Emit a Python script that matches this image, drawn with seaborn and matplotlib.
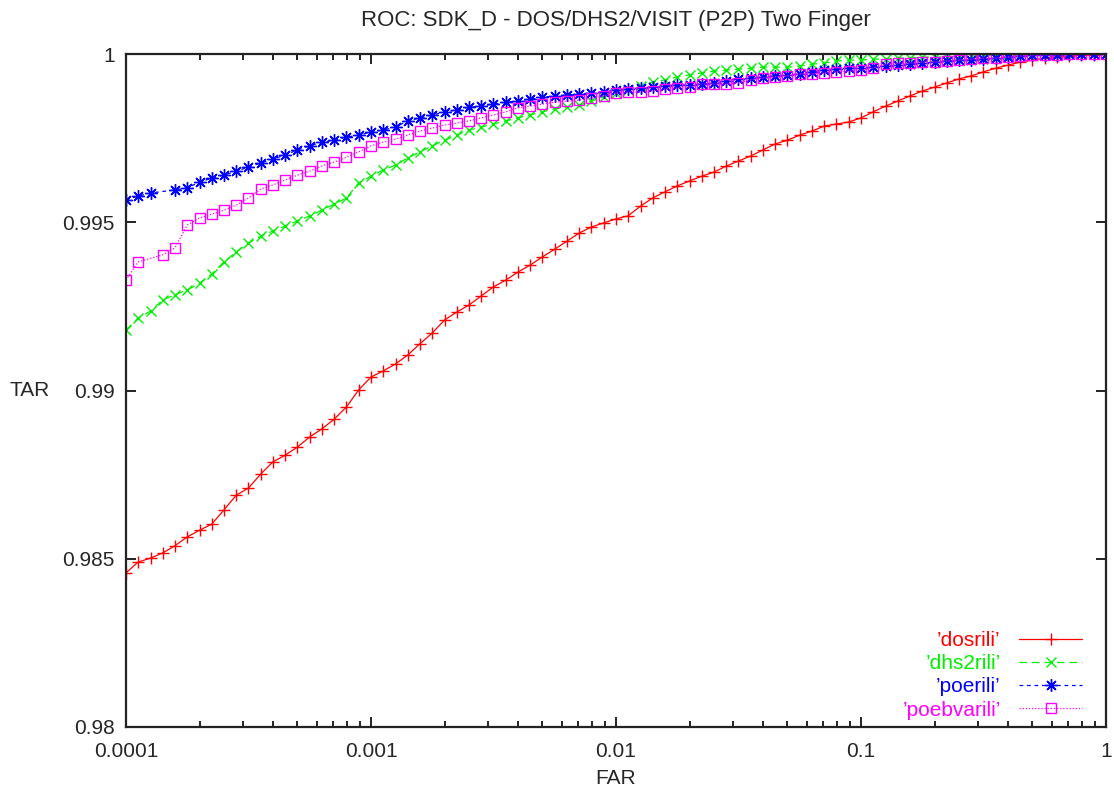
import numpy as np
import matplotlib
matplotlib.use("Agg")
import matplotlib.pyplot as plt
from matplotlib.ticker import FixedLocator, FuncFormatter, LogLocator, NullFormatter
import seaborn as sns

sns.set_style("ticks")
plt.rcParams['font.family'] = ['Liberation Sans', 'DejaVu Sans']

# FAR sample points (log spaced, 20 per decade)
far = [1.00e-4, 1.12e-4, 1.26e-4, 1.41e-4, 1.58e-4, 1.78e-4, 2.00e-4, 2.24e-4, 2.51e-4, 2.82e-4,
       3.16e-4, 3.55e-4, 3.98e-4, 4.47e-4, 5.01e-4, 5.62e-4, 6.31e-4, 7.08e-4, 7.94e-4, 8.91e-4,
       1.00e-3, 1.12e-3, 1.26e-3, 1.41e-3, 1.58e-3, 1.78e-3, 2.00e-3, 2.24e-3, 2.51e-3, 2.82e-3,
       3.16e-3, 3.55e-3, 3.98e-3, 4.47e-3, 5.01e-3, 5.62e-3, 6.31e-3, 7.08e-3, 7.94e-3, 8.91e-3,
       1.00e-2, 1.12e-2, 1.26e-2, 1.41e-2, 1.58e-2, 1.78e-2, 2.00e-2, 2.24e-2, 2.51e-2, 2.82e-2,
       3.16e-2, 3.55e-2, 3.98e-2, 4.47e-2, 5.01e-2, 5.62e-2, 6.31e-2, 7.08e-2, 7.94e-2, 8.91e-2,
       1.00e-1, 1.12e-1, 1.26e-1, 1.41e-1, 1.58e-1, 1.78e-1, 2.00e-1, 2.24e-1, 2.51e-1, 2.82e-1,
       3.16e-1, 3.55e-1, 3.98e-1, 4.47e-1, 5.01e-1, 5.62e-1, 6.31e-1, 7.08e-1, 7.94e-1, 8.91e-1,
       1.0]

tar_dosrili = [0.98458, 0.98490, 0.98502, 0.98517, 0.98538, 0.98565, 0.98585, 0.98603, 0.98645, 0.98689,
               0.98710, 0.98752, 0.98788, 0.98808, 0.98832, 0.98862, 0.98886, 0.98915, 0.98951, 0.99002,
               0.99040, 0.99058, 0.99079, 0.99105, 0.99138, 0.99171, 0.99210, 0.99233, 0.99254, 0.99281,
               0.99308, 0.99328, 0.99352, 0.99373, 0.99397, 0.99420, 0.99444, 0.99468, 0.99486, 0.99498,
               0.99510, 0.99519, 0.99548, 0.99572, 0.99590, 0.99608, 0.99623, 0.99637, 0.99649, 0.99667,
               0.99682, 0.99697, 0.99715, 0.99733, 0.99744, 0.99759, 0.99771, 0.99786, 0.99792, 0.99798,
               0.99810, 0.99828, 0.99845, 0.99860, 0.99875, 0.99890, 0.99902, 0.99914, 0.99926, 0.99935,
               0.99947, 0.99958, 0.99967, 0.99976, 0.99982, 0.99988, 0.99991, 0.99994, 0.99997, 0.99997,
               1.0]

tar_dhs2rili = [0.99180, 0.99215, 0.99236, 0.99269, 0.99284, 0.99299, 0.99319, 0.99346, 0.99382, 0.99412,
                0.99438, 0.99459, 0.99474, 0.99489, 0.99504, 0.99519, 0.99536, 0.99554, 0.99572, 0.99617,
                0.99637, 0.99655, 0.99670, 0.99691, 0.99709, 0.99727, 0.99744, 0.99759, 0.99774, 0.99783,
                0.99792, 0.99801, 0.99810, 0.99819, 0.99828, 0.99837, 0.99842, 0.99848, 0.99860, 0.99872,
                0.99884, 0.99893, 0.99905, 0.99917, 0.99923, 0.99932, 0.99938, 0.99944, 0.99949, 0.99952,
                0.99955, 0.99958, 0.99961, 0.99961, 0.99961, 0.99964, 0.99970, 0.99973, 0.99979, 0.99982,
                0.99982, 0.99985, 0.99985, 0.99988, 0.99988, 0.99991, 0.99991, 0.99991, 0.99994, 0.99994,
                0.99994, 0.99997, 0.99997, 0.99997, 0.99997, 0.99997, 0.99997, 1.0, 1.0, 1.0,
                1.0]

tar_poerili = [0.99566, 0.99578, 0.99587, np.nan, 0.99596, 0.99602, 0.99620, 0.99631, 0.99640, 0.99652,
               0.99664, 0.99676, 0.99688, 0.99700, 0.99715, 0.99727, 0.99738, 0.99744, 0.99753, 0.99759,
               0.99768, 0.99774, 0.99783, 0.99801, 0.99810, 0.99819, 0.99828, 0.99834, 0.99842, 0.99845,
               0.99851, 0.99857, 0.99860, 0.99866, 0.99872, 0.99875, 0.99878, 0.99881, 0.99884, 0.99887,
               0.99893, 0.99896, 0.99899, 0.99902, 0.99905, 0.99908, 0.99908, 0.99911, 0.99914, 0.99920,
               0.99926, 0.99929, 0.99932, 0.99935, 0.99938, 0.99941, 0.99947, 0.99952, 0.99955, 0.99958,
               0.99958, 0.99961, 0.99964, 0.99967, 0.99970, 0.99973, 0.99976, 0.99979, 0.99982, 0.99982,
               0.99985, 0.99988, 0.99991, 0.99994, 0.99997, 0.99997, 0.99997, 1.0, 1.0, 1.0,
               1.0]

tar_poebvarili = [0.99328, 0.99382, np.nan, 0.99403, 0.99423, 0.99492, 0.99513, 0.99524, 0.99536, 0.99551,
                  0.99572, 0.99599, 0.99611, 0.99626, 0.99640, 0.99652, 0.99667, 0.99679, 0.99694, 0.99709,
                  0.99727, 0.99738, 0.99747, 0.99759, 0.99771, 0.99780, 0.99789, 0.99795, 0.99801, 0.99810,
                  0.99819, 0.99828, 0.99840, 0.99845, 0.99851, 0.99857, 0.99860, 0.99863, 0.99869, 0.99875,
                  0.99884, 0.99887, 0.99887, 0.99890, 0.99896, 0.99899, 0.99902, 0.99911, 0.99911, 0.99911,
                  0.99914, 0.99923, 0.99929, 0.99932, 0.99935, 0.99941, 0.99941, 0.99944, 0.99947, 0.99949,
                  0.99952, 0.99958, 0.99970, 0.99973, 0.99973, 0.99976, 0.99976, 0.99979, 0.99982, 0.99985,
                  0.99988, 0.99988, 0.99991, 0.99994, 0.99997, 0.99997, 0.99997, 1.0, 1.0, 1.0,
                  1.0]

series = [
    ("\u2019dosrili\u2019", tar_dosrili, "#ff0000", "-", "+", 9),
    ("\u2019dhs2rili\u2019", tar_dhs2rili, "#00ee00", (0, (6, 4)), "x", 7),
    ("\u2019poerili\u2019", tar_poerili, "#0000ff", (0, (3, 3)), (8, 2, 0), 9),
    ("\u2019poebvarili\u2019", tar_poebvarili, "#ff00ff", (0, (1, 1.5)), "s", 7),
]

fig = plt.figure(figsize=(11.14, 7.98), dpi=100)
ax = fig.add_axes([0.1131, 0.0890, 0.8797, 0.8433])

for name, tar, col, ls, mk, ms in series:
    sns.lineplot(x=far, y=tar, ax=ax, color=col, linestyle=ls, linewidth=0.9,
                 marker=mk, markersize=ms, markeredgewidth=1.0, markeredgecolor=col,
                 markerfacecolor="none", errorbar=None, sort=False, label=name)

ax.set_xscale("log")
ax.set_xlim(1e-4, 1)
ax.set_ylim(0.98, 1.0)
ax.yaxis.set_major_locator(FixedLocator([0.98, 0.985, 0.99, 0.995, 1.0]))
ax.yaxis.set_major_formatter(FuncFormatter(lambda v, p: "%g" % v))
ax.xaxis.set_major_locator(LogLocator(base=10))
ax.xaxis.set_major_formatter(FuncFormatter(lambda v, p: "%g" % v))
ax.xaxis.set_minor_locator(LogLocator(base=10, subs=np.arange(2, 10)))
ax.xaxis.set_minor_formatter(NullFormatter())

ax.tick_params(which="both", direction="in", top=True, right=True, labelsize=15,
               color="#222222", width=1.4)
ax.tick_params(which="major", length=7.5)
ax.tick_params(axis="y", which="major", pad=8)
ax.tick_params(axis="x", which="major", pad=11)
ax.tick_params(which="minor", length=4)
for sp in ax.spines.values():
    sp.set_linewidth(1.6)
    sp.set_color("#222222")

ax.set_title("ROC: SDK_D - DOS/DHS2/VISIT (P2P) Two Finger", fontsize=16, pad=20)
ax.set_xlabel("FAR", fontsize=15)
ax.set_ylabel("TAR", fontsize=15, rotation=0, ha="center", va="center")
ax.xaxis.set_label_coords(0.5, -0.062)
ax.yaxis.set_label_coords(-0.098, 0.5)

leg = ax.legend(loc="lower right", bbox_to_anchor=(0.9755, 0.011), markerfirst=False,
                frameon=False, fontsize=15, handlelength=3.0, handletextpad=0.9,
                labelspacing=0.2, borderpad=0, borderaxespad=0, labelcolor="linecolor")

fig.savefig("out.png", dpi=100)
